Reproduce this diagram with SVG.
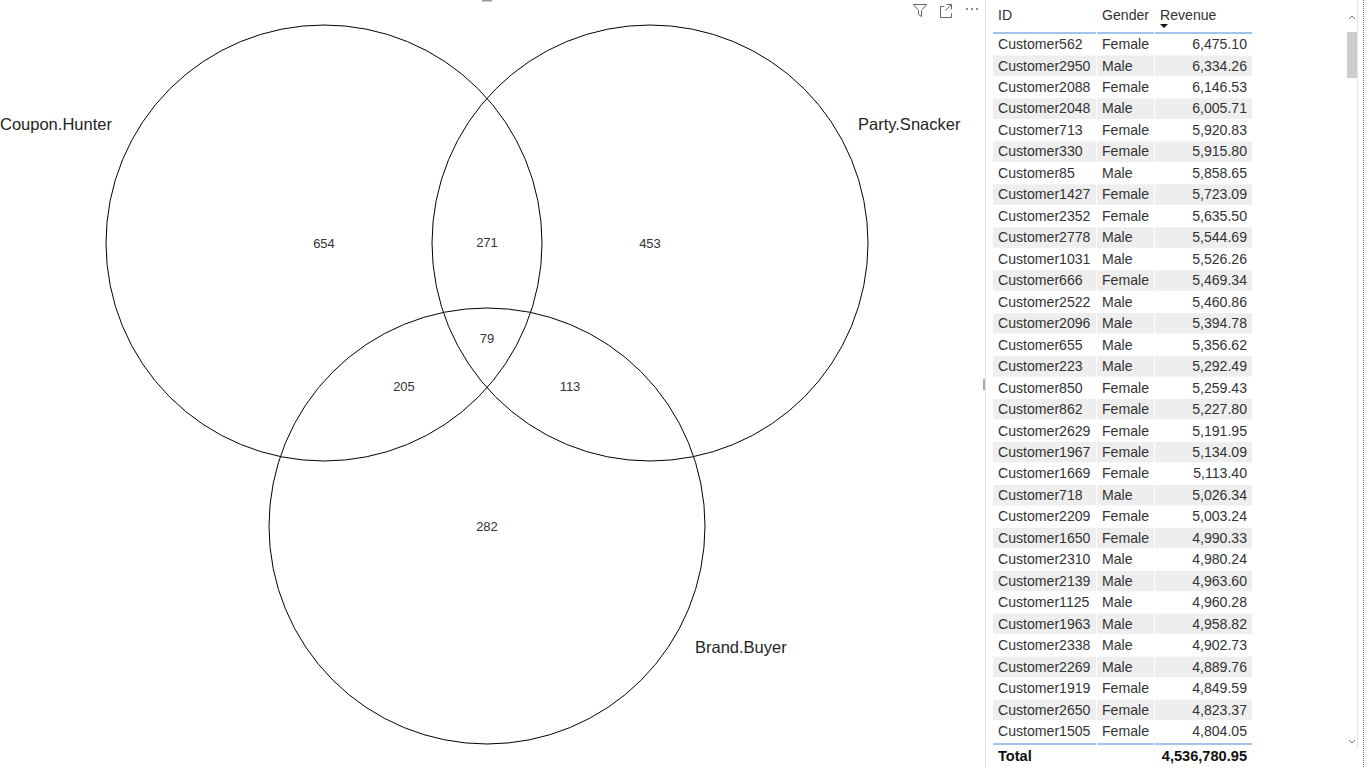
<svg xmlns="http://www.w3.org/2000/svg" width="1366" height="768" viewBox="0 0 1366 768">
  <style>
    .set { fill: none; stroke: #000; stroke-width: 1; }
    .setlabel { font-family: "Segoe UI", "Liberation Sans", sans-serif; font-size: 16.5px; fill: #252423; }
    .count { font-family: "Segoe UI", "Liberation Sans", sans-serif; font-size: 13px; fill: #333; text-anchor: middle; }
    .cell { font-family: "Segoe UI", "Liberation Sans", sans-serif; font-size: 14.1px; fill: #333; }
    .num { text-anchor: end; }
    .hdr { font-family: "Segoe UI", "Liberation Sans", sans-serif; font-size: 14.1px; fill: #333; }
    .tot { font-family: "Segoe UI", "Liberation Sans", sans-serif; font-size: 14.6px; font-weight: bold; fill: #111; }
    .band { fill: #eeeeee; }
    .rule { stroke: #7fb2e8; stroke-width: 1.5; }
    .icon { fill: none; stroke: #666; stroke-width: 1; }
  </style>

  <rect width="1366" height="768" fill="#fff"/>

  <!-- Venn sets -->
  <g id="coupon-hunter">
    <circle class="set" cx="324" cy="243" r="218"/>
    <text class="setlabel" x="0" y="130">Coupon.Hunter</text>
  </g>
  <g id="party-snacker">
    <circle class="set" cx="650" cy="243" r="218"/>
    <text class="setlabel" x="858" y="130">Party.Snacker</text>
  </g>
  <g id="brand-buyer">
    <circle class="set" cx="487" cy="526" r="218"/>
    <text class="setlabel" x="695" y="653">Brand.Buyer</text>
  </g>

  <!-- Region counts -->
  <g id="counts">
    <text class="count" x="324" y="248">654</text>
    <text class="count" x="487" y="247">271</text>
    <text class="count" x="650" y="248">453</text>
    <text class="count" x="487" y="343">79</text>
    <text class="count" x="404" y="391">205</text>
    <text class="count" x="570" y="391">113</text>
    <text class="count" x="487" y="531">282</text>
  </g>

  <!-- Visual header icons -->
  <g id="visual-icons">
    <path class="icon" d="M913.5,4.5 h13 l-5,6 v6 l-3,-2 v-4 z"/>
    <path class="icon" d="M944.5,6.5 h-4 v11 h11 v-4 M946.5,4.5 h5 v5 M951.5,4.5 l-6,6"/>
    <circle cx="967" cy="9" r="1" fill="#666"/>
    <circle cx="972" cy="9" r="1" fill="#666"/>
    <circle cx="977" cy="9" r="1" fill="#666"/>
  </g>
  <rect x="482" y="0" width="10" height="1.5" fill="#999"/>

  <!-- Pane divider -->
  <line x1="985.5" y1="0" x2="985.5" y2="768" stroke="#e1e1e1" stroke-width="1"/>
  <rect x="983" y="379" width="2" height="11" fill="#aaa"/>

  <!-- Table -->
  <g id="table">
    <text class="hdr" x="998" y="20">ID</text>
    <text class="hdr" x="1102" y="20">Gender</text>
    <text class="hdr" x="1160" y="20">Revenue</text>
    <path d="M1160,24 h8 l-4,4 z" fill="#111"/>
    <line class="rule" x1="993" y1="33" x2="1096" y2="33"/>
    <line class="rule" x1="1097" y1="33" x2="1154" y2="33"/>
    <line class="rule" x1="1155" y1="33" x2="1252" y2="33"/>

    <!-- alternating row bands -->
    <g id="bands">
      <rect class="band" x="993" y="55.5" width="259" height="20.5"/>
      <rect class="band" x="993" y="98.4" width="259" height="20.5"/>
      <rect class="band" x="993" y="141.4" width="259" height="20.5"/>
      <rect class="band" x="993" y="184.3" width="259" height="20.5"/>
      <rect class="band" x="993" y="227.3" width="259" height="20.5"/>
      <rect class="band" x="993" y="270.2" width="259" height="20.5"/>
      <rect class="band" x="993" y="313.1" width="259" height="20.5"/>
      <rect class="band" x="993" y="356.1" width="259" height="20.5"/>
      <rect class="band" x="993" y="399.0" width="259" height="20.5"/>
      <rect class="band" x="993" y="441.9" width="259" height="20.5"/>
      <rect class="band" x="993" y="484.9" width="259" height="20.5"/>
      <rect class="band" x="993" y="527.8" width="259" height="20.5"/>
      <rect class="band" x="993" y="570.8" width="259" height="20.5"/>
      <rect class="band" x="993" y="613.7" width="259" height="20.5"/>
      <rect class="band" x="993" y="656.6" width="259" height="20.5"/>
      <rect class="band" x="993" y="699.6" width="259" height="20.5"/>
      <line x1="1096.5" y1="34" x2="1096.5" y2="742" stroke="#fff" stroke-width="1"/>
      <line x1="1154.5" y1="34" x2="1154.5" y2="742" stroke="#fff" stroke-width="1"/>
    </g>

    <g id="rows" class="cell">
      <text x="998" y="49.0">Customer562</text><text x="1102" y="49.0">Female</text><text class="num" x="1247" y="49.0">6,475.10</text>
      <text x="998" y="70.5">Customer2950</text><text x="1102" y="70.5">Male</text><text class="num" x="1247" y="70.5">6,334.26</text>
      <text x="998" y="91.9">Customer2088</text><text x="1102" y="91.9">Female</text><text class="num" x="1247" y="91.9">6,146.53</text>
      <text x="998" y="113.4">Customer2048</text><text x="1102" y="113.4">Male</text><text class="num" x="1247" y="113.4">6,005.71</text>
      <text x="998" y="134.9">Customer713</text><text x="1102" y="134.9">Female</text><text class="num" x="1247" y="134.9">5,920.83</text>
      <text x="998" y="156.3">Customer330</text><text x="1102" y="156.3">Female</text><text class="num" x="1247" y="156.3">5,915.80</text>
      <text x="998" y="177.8">Customer85</text><text x="1102" y="177.8">Male</text><text class="num" x="1247" y="177.8">5,858.65</text>
      <text x="998" y="199.3">Customer1427</text><text x="1102" y="199.3">Female</text><text class="num" x="1247" y="199.3">5,723.09</text>
      <text x="998" y="220.8">Customer2352</text><text x="1102" y="220.8">Female</text><text class="num" x="1247" y="220.8">5,635.50</text>
      <text x="998" y="242.2">Customer2778</text><text x="1102" y="242.2">Male</text><text class="num" x="1247" y="242.2">5,544.69</text>
      <text x="998" y="263.7">Customer1031</text><text x="1102" y="263.7">Male</text><text class="num" x="1247" y="263.7">5,526.26</text>
      <text x="998" y="285.2">Customer666</text><text x="1102" y="285.2">Female</text><text class="num" x="1247" y="285.2">5,469.34</text>
      <text x="998" y="306.6">Customer2522</text><text x="1102" y="306.6">Male</text><text class="num" x="1247" y="306.6">5,460.86</text>
      <text x="998" y="328.1">Customer2096</text><text x="1102" y="328.1">Male</text><text class="num" x="1247" y="328.1">5,394.78</text>
      <text x="998" y="349.6">Customer655</text><text x="1102" y="349.6">Male</text><text class="num" x="1247" y="349.6">5,356.62</text>
      <text x="998" y="371.0">Customer223</text><text x="1102" y="371.0">Male</text><text class="num" x="1247" y="371.0">5,292.49</text>
      <text x="998" y="392.5">Customer850</text><text x="1102" y="392.5">Female</text><text class="num" x="1247" y="392.5">5,259.43</text>
      <text x="998" y="414.0">Customer862</text><text x="1102" y="414.0">Female</text><text class="num" x="1247" y="414.0">5,227.80</text>
      <text x="998" y="435.5">Customer2629</text><text x="1102" y="435.5">Female</text><text class="num" x="1247" y="435.5">5,191.95</text>
      <text x="998" y="456.9">Customer1967</text><text x="1102" y="456.9">Female</text><text class="num" x="1247" y="456.9">5,134.09</text>
      <text x="998" y="478.4">Customer1669</text><text x="1102" y="478.4">Female</text><text class="num" x="1247" y="478.4">5,113.40</text>
      <text x="998" y="499.9">Customer718</text><text x="1102" y="499.9">Male</text><text class="num" x="1247" y="499.9">5,026.34</text>
      <text x="998" y="521.3">Customer2209</text><text x="1102" y="521.3">Female</text><text class="num" x="1247" y="521.3">5,003.24</text>
      <text x="998" y="542.8">Customer1650</text><text x="1102" y="542.8">Female</text><text class="num" x="1247" y="542.8">4,990.33</text>
      <text x="998" y="564.3">Customer2310</text><text x="1102" y="564.3">Male</text><text class="num" x="1247" y="564.3">4,980.24</text>
      <text x="998" y="585.7">Customer2139</text><text x="1102" y="585.7">Male</text><text class="num" x="1247" y="585.7">4,963.60</text>
      <text x="998" y="607.2">Customer1125</text><text x="1102" y="607.2">Male</text><text class="num" x="1247" y="607.2">4,960.28</text>
      <text x="998" y="628.7">Customer1963</text><text x="1102" y="628.7">Male</text><text class="num" x="1247" y="628.7">4,958.82</text>
      <text x="998" y="650.2">Customer2338</text><text x="1102" y="650.2">Male</text><text class="num" x="1247" y="650.2">4,902.73</text>
      <text x="998" y="671.6">Customer2269</text><text x="1102" y="671.6">Male</text><text class="num" x="1247" y="671.6">4,889.76</text>
      <text x="998" y="693.1">Customer1919</text><text x="1102" y="693.1">Female</text><text class="num" x="1247" y="693.1">4,849.59</text>
      <text x="998" y="714.6">Customer2650</text><text x="1102" y="714.6">Female</text><text class="num" x="1247" y="714.6">4,823.37</text>
      <text x="998" y="736.0">Customer1505</text><text x="1102" y="736.0">Female</text><text class="num" x="1247" y="736.0">4,804.05</text>
    </g>

    <line class="rule" x1="993" y1="744" x2="1096" y2="744"/>
    <line class="rule" x1="1097" y1="744" x2="1154" y2="744"/>
    <line class="rule" x1="1155" y1="744" x2="1252" y2="744"/>
    <text class="tot" x="998" y="761">Total</text>
    <text class="tot num" x="1247" y="761">4,536,780.95</text>
  </g>

  <!-- Scrollbar -->
  <g id="scrollbar">
    <line x1="1357.5" y1="0" x2="1357.5" y2="748" stroke="#e6e6e6" stroke-width="1"/>
    <path d="M1349,19 l3,-3 l3,3" fill="none" stroke="#777" stroke-width="1"/>
    <rect x="1347" y="32" width="10" height="46" fill="#cdcdcd"/>
    <path d="M1349,740 l3,3 l3,-3" fill="none" stroke="#777" stroke-width="1"/>
  </g>
  <line x1="1363.5" y1="0" x2="1363.5" y2="768" stroke="#777" stroke-width="1" stroke-dasharray="1,1"/>
</svg>
